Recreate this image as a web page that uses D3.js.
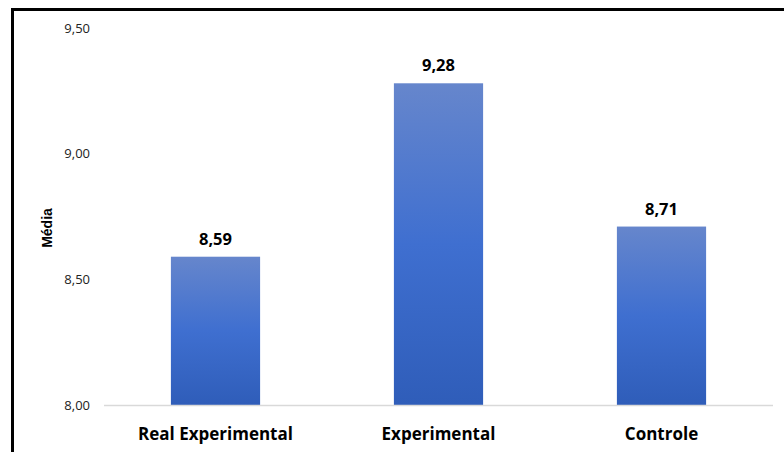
<!DOCTYPE html>
<html>
<head>
  <meta charset="UTF-8">
  <title>Média por grupo</title>
  <script src="https://d3js.org/d3.v7.min.js"></script>
  <style>
    body { margin: 0; background: #fff; }
    text { font-family: "Open Sans", "Liberation Sans", sans-serif; }
  </style>
</head>
<body>
  <div id="chart"></div>
  <script>
    const groups = ["Real Experimental", "Experimental", "Controle"];
    const means = [8.59, 9.28, 8.71];
    const yTicks = [8.0, 8.5, 9.0, 9.5];

    const W = 784, H = 452;
    const margin = { top: 28, right: 11, bottom: 47, left: 104 };
    const width = W - margin.left - margin.right;
    const height = H - margin.top - margin.bottom;
    const fmt = v => d3.format(".2f")(v).replace(".", ",");

    const svg = d3.select("#chart").append("svg")
      .attr("width", W).attr("height", H);

    // frame of the original chart area (cut off on right and bottom)
    svg.append("rect")
      .attr("x", 12.5).attr("y", 9.5)
      .attr("width", 900).attr("height", 600)
      .attr("fill", "none").attr("stroke", "#000").attr("stroke-width", 3);

    const grad = svg.append("defs").append("linearGradient")
      .attr("id", "barGrad").attr("x1", 0).attr("y1", 0).attr("x2", 0).attr("y2", 1);
    grad.append("stop").attr("offset", "0%").attr("stop-color", "#6686cc");
    grad.append("stop").attr("offset", "50%").attr("stop-color", "#3f6fd0");
    grad.append("stop").attr("offset", "100%").attr("stop-color", "#2f5db9");

    const g = svg.append("g")
      .attr("transform", "translate(" + margin.left + "," + margin.top + ")");

    const x = d3.scaleBand().domain(groups).range([0, width]).paddingInner(0.6).paddingOuter(0.3);
    const y = d3.scaleLinear().domain([8, 9.5]).range([height, 0]);

    // y tick labels only (no gridlines, no axis line)
    g.selectAll(".ytick").data(yTicks).enter().append("text")
      .attr("x", -14).attr("y", d => y(d)).attr("dy", "0.35em")
      .attr("text-anchor", "end").style("font-size", "13px").attr("fill", "#222")
      .text(fmt);

    g.selectAll(".bar").data(groups).enter().append("rect")
      .attr("x", d => x(d))
      .attr("y", (d, i) => y(means[i]))
      .attr("width", x.bandwidth())
      .attr("height", (d, i) => height - y(means[i]))
      .attr("fill", "url(#barGrad)");

    g.append("line")
      .attr("x1", 0).attr("x2", width)
      .attr("y1", height + 0.5).attr("y2", height + 0.5)
      .attr("stroke", "#d9d9d9").attr("stroke-width", 1.5);

    g.selectAll(".val").data(groups).enter().append("text")
      .attr("x", d => x(d) + x.bandwidth() / 2)
      .attr("y", (d, i) => y(means[i]) - 12)
      .attr("text-anchor", "middle")
      .style("font-size", "16.5px").style("font-weight", "bold").attr("fill", "#000")
      .text((d, i) => fmt(means[i]));

    g.selectAll(".cat").data(groups).enter().append("text")
      .attr("x", d => x(d) + x.bandwidth() / 2)
      .attr("y", height + 35)
      .attr("text-anchor", "middle")
      .style("font-size", "17px").style("font-weight", "bold").attr("fill", "#000")
      .text(d => d);

    svg.append("text")
      .attr("transform", "translate(52,228) rotate(-90)")
      .attr("text-anchor", "middle")
      .style("font-size", "14px").style("font-weight", "bold")
      .style("font-family", "'Liberation Sans', Arial, sans-serif")
      .text("Média");
  </script>
</body>
</html>
